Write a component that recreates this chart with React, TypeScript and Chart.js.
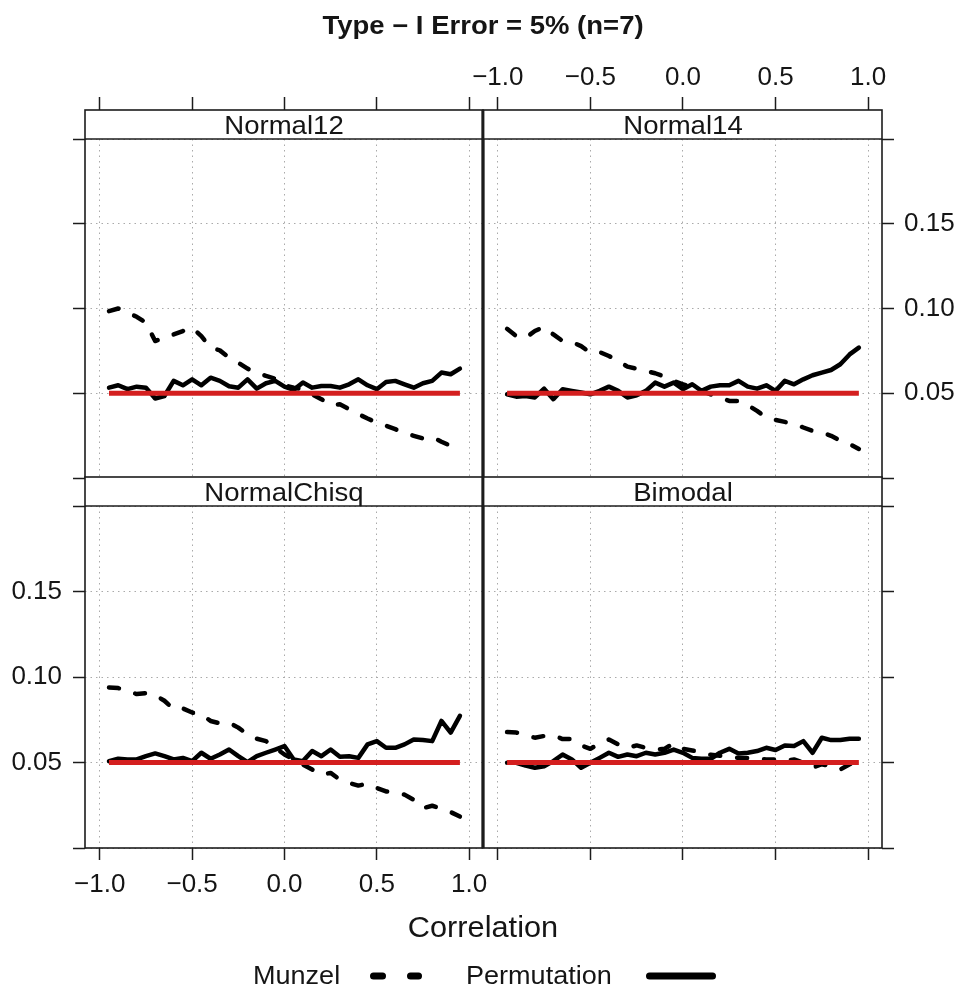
import React, { useEffect, useRef } from "react";
import { Chart, registerables } from "chart.js";

Chart.register(...registerables);

// ---------------- data ----------------
const correlation = [
  -0.95, -0.9, -0.85, -0.8, -0.75, -0.7, -0.65, -0.6, -0.55, -0.5, -0.45, -0.4, -0.35,
  -0.3, -0.25, -0.2, -0.15, -0.1, -0.05, 0, 0.05, 0.1, 0.15, 0.2, 0.25, 0.3, 0.35, 0.4,
  0.45, 0.5, 0.55, 0.6, 0.65, 0.7, 0.75, 0.8, 0.85, 0.9, 0.95,
];

const munzelNormal12 = [
  0.0984, 0.1, 0.0975, 0.0951, 0.0916, 0.0808, 0.0827, 0.0847, 0.0867, 0.0887, 0.0837,
  0.0769, 0.0753, 0.071, 0.068, 0.0645, 0.0622, 0.0602, 0.0586, 0.0547, 0.0533, 0.0524,
  0.0494, 0.0465, 0.0429, 0.0435, 0.0406, 0.0377, 0.0351, 0.0327, 0.0308, 0.0288, 0.0265,
  0.0249, 0.0233, 0.0241, 0.0214, 0.019, 0.0161,
];
const permNormal12 = [
  0.0533, 0.0547, 0.0524, 0.0539, 0.0533, 0.0469, 0.0484, 0.0573, 0.0547, 0.0582, 0.0547,
  0.0592, 0.0573, 0.0541, 0.0533, 0.0582, 0.0527, 0.0559, 0.0573, 0.0539, 0.052, 0.0563,
  0.0533, 0.0543, 0.0543, 0.0533, 0.0553, 0.0582, 0.0547, 0.0524, 0.0566, 0.0573, 0.0553,
  0.0533, 0.0559, 0.0573, 0.0622, 0.0612, 0.0645,
];

const munzelNormal14 = [
  0.088, 0.0837, 0.0827, 0.0867, 0.0892, 0.0847, 0.0808, 0.0802, 0.0778, 0.0739, 0.0743,
  0.072, 0.069, 0.0657, 0.0645, 0.0631, 0.0618, 0.0598, 0.0573, 0.0553, 0.0533, 0.0514,
  0.0494, 0.0475, 0.0455, 0.0455, 0.0429, 0.0396, 0.0357, 0.0343, 0.0331, 0.0318, 0.0298,
  0.0278, 0.0269, 0.0249, 0.022, 0.02, 0.0171,
];
const permNormal14 = [
  0.0494, 0.048, 0.0484, 0.0475, 0.0527, 0.0465, 0.0524, 0.0514, 0.0504, 0.0494, 0.0514,
  0.0539, 0.0514, 0.0475, 0.0488, 0.0514, 0.0563, 0.0539, 0.0563, 0.0524, 0.0553, 0.0514,
  0.0539, 0.0547, 0.0547, 0.0573, 0.0539, 0.0527, 0.0547, 0.0514, 0.0573, 0.0553, 0.0582,
  0.0606, 0.0622, 0.0637, 0.0671, 0.0729, 0.0769,
];

const munzelNormalChisq = [
  0.0939, 0.0935, 0.092, 0.09, 0.0906, 0.0894, 0.0861, 0.0812, 0.0816, 0.0792, 0.0782,
  0.0743, 0.0729, 0.0733, 0.0704, 0.0665, 0.0639, 0.0625, 0.0586, 0.0547, 0.0518, 0.0488,
  0.0459, 0.0429, 0.0439, 0.04, 0.038, 0.0365, 0.0376, 0.0351, 0.0331, 0.0325, 0.0312,
  0.0282, 0.0233, 0.0247, 0.023, 0.021, 0.0184,
];
const permNormalChisq = [
  0.0508, 0.0522, 0.0518, 0.0518, 0.0537, 0.0553, 0.0537, 0.0518, 0.0527, 0.0508, 0.0557,
  0.0522, 0.0547, 0.0576, 0.0537, 0.0502, 0.0537, 0.0557, 0.0576, 0.0596, 0.0518, 0.0508,
  0.0567, 0.0537, 0.0576, 0.0533, 0.0537, 0.0527, 0.0606, 0.0625, 0.0586, 0.0586, 0.0606,
  0.0635, 0.0631, 0.0625, 0.0743, 0.0675, 0.0773,
];

const munzelBimodal = [
  0.0678, 0.0675, 0.066, 0.0645, 0.0655, 0.0659, 0.0637, 0.0637, 0.06, 0.058, 0.0612,
  0.0635, 0.0606, 0.0586, 0.06, 0.0586, 0.0576, 0.058, 0.0612, 0.058, 0.057, 0.056, 0.0545,
  0.054, 0.0533, 0.0527, 0.0527, 0.052, 0.0518, 0.0518, 0.051, 0.0518, 0.05, 0.047, 0.049,
  0.0478, 0.0459, 0.049, 0.05,
];
const permBimodal = [
  0.0498, 0.0498, 0.0482, 0.0469, 0.0478, 0.0508, 0.0547, 0.0518, 0.0469, 0.0498, 0.0527,
  0.0557, 0.0533, 0.0547, 0.0537, 0.0557, 0.0547, 0.0557, 0.0576, 0.0557, 0.0527, 0.0522,
  0.0522, 0.0557, 0.058, 0.0553, 0.0557, 0.0567, 0.0586, 0.0573, 0.06, 0.0596, 0.0625,
  0.0557, 0.0645, 0.0631, 0.0631, 0.0639, 0.0639,
];

const nominalX = [-0.95, 0.95];
const nominalLevel = [0.05, 0.05];

const xTickValues = [-1, -0.5, 0, 0.5, 1];
const yTickValues = [0, 0.05, 0.1, 0.15, 0.2];
const yLabelValues = [0.05, 0.1, 0.15];
const seriesNames = ["Munzel", "Permutation"];
const titleText = "Type \u2212 I Error = 5% (n=7)";
const xAxisTitle = "Correlation";

// ---------------- layout / style ----------------
const W = 960;
const H = 989;
const FONT = '"Liberation Sans", Arial, Helvetica, sans-serif';
const TEXT = "#151515";
const FRAME = "#1c1c1c";
const RED = "#d41f1f";
const GRID = "#aaaaaa";
const X_MIN = -1.08;
const X_MAX = 1.075;
const AX_W_LEFT = 85;
const AX_W_RIGHT = 78;
const AX_H = 100;
const STRIP_H = 29;

type Spec = {
  name: string;
  munzel: number[];
  perm: number[];
  l: number;
  r: number;
  t: number;
  b: number;
  yPos: "left" | "right";
  yLabels: boolean;
  xPos: "top" | "bottom";
  xLabels: boolean;
  inner: "left" | "right";
};

const PANELS: Spec[] = [
  { name: "Normal12", munzel: munzelNormal12, perm: permNormal12, l: 85, r: 483, t: 139, b: 478, yPos: "left", yLabels: false, xPos: "top", xLabels: false, inner: "right" },
  { name: "Normal14", munzel: munzelNormal14, perm: permNormal14, l: 483, r: 882, t: 139, b: 478, yPos: "right", yLabels: true, xPos: "top", xLabels: true, inner: "left" },
  { name: "NormalChisq", munzel: munzelNormalChisq, perm: permNormalChisq, l: 85, r: 483, t: 506, b: 848, yPos: "left", yLabels: true, xPos: "bottom", xLabels: true, inner: "right" },
  { name: "Bimodal", munzel: munzelBimodal, perm: permBimodal, l: 483, r: 882, t: 506, b: 848, yPos: "right", yLabels: false, xPos: "bottom", xLabels: false, inner: "left" },
];

const fmtX = (v: number) => (v < -1e-9 ? "\u2212" + Math.abs(v).toFixed(1) : Math.abs(v).toFixed(1));

const framePlugin = {
  id: "panelFrame",
  afterDraw(chart: any, _args: any, opts: any) {
    const { ctx, chartArea: a } = chart;
    const st = a.top - STRIP_H;
    ctx.save();
    ctx.fillStyle = "#fff";
    ctx.fillRect(a.left, st, a.right - a.left, STRIP_H);
    ctx.strokeStyle = FRAME;
    ctx.lineWidth = 1.6;
    ctx.strokeRect(a.left, st, a.right - a.left, a.bottom - st);
    ctx.beginPath();
    ctx.moveTo(a.left, a.top);
    ctx.lineTo(a.right, a.top);
    ctx.stroke();
    ctx.lineWidth = 2.8;
    const x = opts.inner === "right" ? a.right : a.left;
    ctx.beginPath();
    ctx.moveTo(x, st);
    ctx.lineTo(x, a.bottom);
    ctx.stroke();
    ctx.restore();
  },
};

function Panel({ spec }: { spec: Spec }) {
  const ref = useRef<HTMLCanvasElement>(null);
  useEffect(() => {
    const s = spec;
    const axW = s.yPos === "left" ? AX_W_LEFT : AX_W_RIGHT;
    const padding = {
      left: s.yPos === "left" ? s.l - axW : s.l,
      right: s.yPos === "right" ? W - s.r - axW : W - s.r,
      top: s.xPos === "top" ? s.t - AX_H : s.t,
      bottom: s.xPos === "bottom" ? H - s.b - AX_H : H - s.b,
    };
    const tickFont = { family: FONT, size: 26 };
    const chart = new Chart(ref.current as HTMLCanvasElement, {
      type: "line",
      data: {
        datasets: [
          {
            label: "nominal",
            data: nominalX.map((x, i) => ({ x, y: nominalLevel[i] })),
            borderColor: RED,
            borderWidth: 5,
            pointRadius: 0,
            borderCapStyle: "butt",
          },
          {
            label: seriesNames[0],
            data: correlation.map((x, i) => ({ x, y: s.munzel[i] })),
            borderColor: "#000",
            borderWidth: 4.5,
            borderDash: [10, 17],
            borderCapStyle: "round",
            borderJoinStyle: "round",
            pointRadius: 0,
          },
          {
            label: seriesNames[1],
            data: correlation.map((x, i) => ({ x, y: s.perm[i] })),
            borderColor: "#000",
            borderWidth: 4.5,
            borderCapStyle: "round",
            borderJoinStyle: "round",
            pointRadius: 0,
          },
        ],
      },
      options: {
        responsive: false,
        animation: false,
        events: [],
        layout: { padding },
        plugins: {
          legend: { display: false },
          tooltip: { enabled: false },
          panelFrame: { inner: s.inner },
        } as any,
        scales: {
          x: {
            type: "linear",
            position: s.xPos,
            min: X_MIN,
            max: X_MAX,
            afterBuildTicks: (sc: any) => {
              sc.ticks = xTickValues.map((v) => ({ value: v }));
            },
            afterFit: (sc: any) => {
              sc.height = AX_H;
            },
            ticks: {
              autoSkip: false,
              maxRotation: 0,
              minRotation: 0,
              padding: s.xPos === "top" ? 4 : 9,
              color: TEXT,
              font: tickFont,
              callback: (v: any) => (s.xLabels ? fmtX(Number(v)) : ""),
            },
            grid: {
              color: GRID,
              lineWidth: 1,
              tickLength: s.xPos === "top" ? 42 : 12,
              tickColor: FRAME,
              tickWidth: 1.5,
              tickBorderDash: [],
            },
            border: { display: false, dash: [1.5, 4] },
          } as any,
          y: {
            type: "linear",
            position: s.yPos,
            min: 0,
            max: 0.2,
            afterBuildTicks: (sc: any) => {
              sc.ticks = yTickValues.map((v) => ({ value: v }));
            },
            afterFit: (sc: any) => {
              sc.width = axW;
            },
            ticks: {
              autoSkip: false,
              padding: s.yPos === "left" ? 11 : 10,
              color: TEXT,
              font: tickFont,
              callback: (v: any) => {
                const n = Number(v);
                if (!s.yLabels) return "";
                return yLabelValues.some((y) => Math.abs(y - n) < 1e-6) ? n.toFixed(2) : "";
              },
            },
            grid: {
              color: GRID,
              lineWidth: 1,
              tickLength: 12,
              tickColor: FRAME,
              tickWidth: 1.5,
              tickBorderDash: [],
            },
            border: { display: false, dash: [1.5, 4] },
          } as any,
        },
      },
      plugins: [framePlugin as any],
    });
    return () => chart.destroy();
  }, [spec]);
  return (
    <canvas
      ref={ref}
      width={W}
      height={H}
      style={{ position: "absolute", left: 0, top: 0, width: W, height: H }}
    />
  );
}

function Label({
  text,
  cx,
  cy,
  size,
  bold,
  sx,
  align,
}: {
  text: string;
  cx: number;
  cy: number;
  size: number;
  bold?: boolean;
  sx?: number;
  align?: "left" | "center";
}) {
  const lh = Math.round(size * 1.3);
  const w = 600;
  const left = align === "left" ? cx : cx - w / 2;
  return (
    <div
      style={{
        position: "absolute",
        left,
        top: cy - lh / 2,
        width: w,
        height: lh,
        lineHeight: lh + "px",
        fontFamily: FONT,
        fontSize: size,
        fontWeight: bold ? 700 : 400,
        color: TEXT,
        textAlign: align === "left" ? "left" : "center",
        whiteSpace: "nowrap",
        transform: `scaleX(${sx ?? 1})`,
        transformOrigin: align === "left" ? "left center" : "center center",
        zIndex: 2,
      }}
    >
      {text}
    </div>
  );
}

export default function App() {
  return (
    <div
      style={{
        position: "absolute",
        left: 0,
        top: 0,
        width: W,
        height: H,
        background: "#fff",
        overflow: "hidden",
      }}
    >
      {PANELS.map((p) => (
        <Panel key={p.name} spec={p} />
      ))}
      <Label text={titleText} cx={483} cy={25} size={25} bold sx={1.1} />
      {PANELS.map((p) => (
        <Label
          key={"s" + p.name}
          text={p.name}
          cx={(p.l + p.r) / 2}
          cy={p.t - STRIP_H / 2}
          size={26}
          sx={1.06}
        />
      ))}
      <Label text={xAxisTitle} cx={483} cy={927} size={29} sx={1.06} />
      <Label text={seriesNames[0]} cx={253} cy={975} size={26} sx={1.04} align="left" />
      <svg
        width={70}
        height={20}
        style={{ position: "absolute", left: 362, top: 966, zIndex: 2 }}
      >
        <line x1={11.5} y1={10} x2={20.5} y2={10} stroke="#000" strokeWidth={7} strokeLinecap="round" />
        <line x1={48.5} y1={10} x2={56.5} y2={10} stroke="#000" strokeWidth={7} strokeLinecap="round" />
      </svg>
      <Label text={seriesNames[1]} cx={466} cy={975} size={26} sx={1.04} align="left" />
      <svg
        width={90}
        height={20}
        style={{ position: "absolute", left: 640, top: 966, zIndex: 2 }}
      >
        <line x1={9.5} y1={10} x2={72.5} y2={10} stroke="#000" strokeWidth={7} strokeLinecap="round" />
      </svg>
    </div>
  );
}
